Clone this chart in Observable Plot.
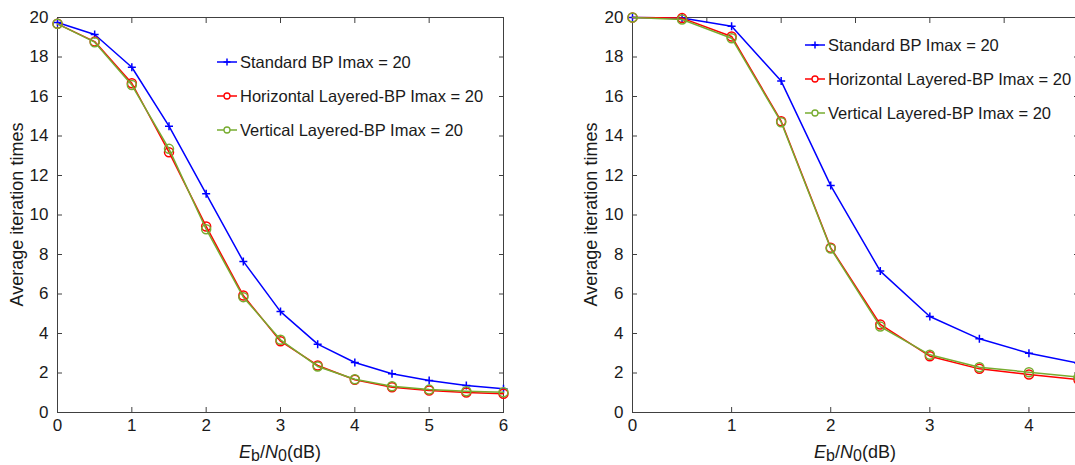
<!DOCTYPE html>
<html>
<head>
<meta charset="utf-8">
<script src="https://cdn.jsdelivr.net/npm/d3@7"></script>
<script src="https://cdn.jsdelivr.net/npm/@observablehq/plot@0.6"></script>
<style>
  html, body { margin: 0; padding: 0; background: #fff; overflow: hidden; width: 1075px; height: 465px; }
  #wrap { position: relative; width: 1075px; height: 465px; overflow: hidden; }
  #wrap svg { position: absolute; top: 0; }
</style>
</head>
<body>
<div id="wrap"></div>
<script>
// ---- data ----
const seriesNames = ["Standard BP Imax = 20", "Horizontal Layered-BP Imax = 20", "Vertical Layered-BP Imax = 20"];
const seriesColors = ["#0000ff", "#ff0000", "#77ac30"];
const seriesSymbols = ["plus", "circle", "circle"];

const snrLeft = [0, 0.5, 1, 1.5, 2, 2.5, 3, 3.5, 4, 4.5, 5, 5.5, 6];
const stdLeft = [19.75, 19.14, 17.48, 14.5, 11.07, 7.65, 5.11, 3.46, 2.53, 1.96, 1.62, 1.37, 1.2];
const horLeft = [19.68, 18.78, 16.67, 13.18, 9.42, 5.92, 3.61, 2.38, 1.66, 1.28, 1.11, 1.01, 0.95];
const verLeft = [19.68, 18.75, 16.58, 13.35, 9.28, 5.84, 3.68, 2.33, 1.68, 1.33, 1.16, 1.08, 1.03];

const snrRight = [0, 0.5, 1, 1.5, 2, 2.5, 3, 3.5, 4, 4.5];
const stdRight = [20.0, 19.97, 19.56, 16.78, 11.49, 7.16, 4.86, 3.73, 3.0, 2.5];
const horRight = [20.0, 19.97, 19.04, 14.75, 8.34, 4.46, 2.85, 2.21, 1.92, 1.66];
const verRight = [20.0, 19.9, 18.95, 14.7, 8.3, 4.35, 2.92, 2.29, 2.04, 1.79];

const yTicks = [0, 2, 4, 6, 8, 10, 12, 14, 16, 18, 20];
const xTicksLeft = [0, 1, 2, 3, 4, 5, 6];
const xTicksRight = [0, 1, 2, 3, 4];
const topTicksRight = [0.75, 1.5, 2.25, 3, 3.75];
const yLabel = "Average iteration times";

// ---- styling ----
const FONT = "'Liberation Sans', Arial, Helvetica, sans-serif";
const axisColor = "#404040";
const textColor = "#1a1a1a";

const plusSymbol = {
  draw(context, size) {
    const r = Math.sqrt(size / Math.PI);
    context.moveTo(-r, 0); context.lineTo(r, 0);
    context.moveTo(0, -r); context.lineTo(0, r);
  }
};

function buildRows(xs, seriesValues) {
  const rows = [];
  seriesValues.forEach((vals, i) => {
    vals.forEach((v, j) => rows.push({series: seriesNames[i], x: xs[j], y: v}));
  });
  return rows;
}

function panel({xs, values, xDomain, xTicks, topTicks, width, marginLeft, marginRight}) {
  const rows = buildRows(xs, values);
  const seriesMarks = [];
  seriesNames.forEach((name, i) => {
    const d = rows.filter(r => r.series === name);
    seriesMarks.push(Plot.line(d, {x: "x", y: "y", stroke: seriesColors[i], strokeWidth: 1.5}));
    if (seriesSymbols[i] === "plus") {
      seriesMarks.push(Plot.dot(d, {x: "x", y: "y", symbol: plusSymbol, r: 4, stroke: seriesColors[i], strokeWidth: 1.5, fill: "none"}));
    } else {
      seriesMarks.push(Plot.dot(d, {x: "x", y: "y", symbol: "circle", r: 4.5, stroke: seriesColors[i], strokeWidth: 1.5, fill: "none"}));
    }
  });
  return Plot.plot({
    width, height: 465,
    marginTop: 17, marginBottom: 53, marginLeft, marginRight,
    x: {domain: xDomain},
    y: {domain: [0, 20]},
    style: {fontFamily: FONT, fontSize: "17px", color: textColor, background: "transparent", overflow: "visible"},
    marks: [
      Plot.frame({stroke: axisColor}),
      Plot.axisX(xTicks, {anchor: "bottom", tickSize: 5, dy: -5, fill: "none", stroke: axisColor}),
      Plot.axisX(topTicks, {anchor: "top", tickSize: 5, dy: 5, fill: "none", stroke: axisColor}),
      Plot.axisY(yTicks, {anchor: "left", tickSize: 5, dx: 5, fill: "none", stroke: axisColor}),
      Plot.axisY(yTicks, {anchor: "right", tickSize: 5, dx: -5, fill: "none", stroke: axisColor}),
      Plot.axisX(xTicks, {anchor: "bottom", tickSize: 0, tickPadding: 6, label: null, fill: textColor, fontSize: 17}),
      Plot.axisY(yTicks, {anchor: "left", tickSize: 0, tickPadding: 9, label: null, fill: textColor, fontSize: 17}),
      ...seriesMarks
    ]
  });
}

function addDecor(svg, {xCenter, yLabelX, legendX, legendRows}) {
  const s = d3.select(svg);
  // x label
  const t = s.append("text")
    .attr("x", xCenter).attr("y", 458)
    .attr("text-anchor", "middle")
    .attr("fill", textColor)
    .style("font-family", FONT).style("font-size", "18px");
  t.append("tspan").attr("font-style", "italic").text("E");
  t.append("tspan").attr("dy", 3).style("font-size", "16px").text("b");
  t.append("tspan").attr("dy", -3).text("/");
  t.append("tspan").attr("font-style", "italic").text("N");
  t.append("tspan").attr("dy", 3).style("font-size", "16px").text("0");
  t.append("tspan").attr("dy", -3).text("(dB)");
  // y label
  s.append("text")
    .attr("transform", `translate(${yLabelX},214.5) rotate(-90)`)
    .attr("text-anchor", "middle")
    .attr("fill", textColor)
    .style("font-family", FONT).style("font-size", "18px")
    .text(yLabel);
  // legend
  const g = s.append("g").attr("text-anchor", "start");
  seriesNames.forEach((name, i) => {
    const y = legendRows[i];
    g.append("line")
      .attr("x1", legendX).attr("x2", legendX + 20)
      .attr("y1", y).attr("y2", y)
      .attr("stroke", seriesColors[i]).attr("stroke-width", 1.5);
    const cx = legendX + 10;
    if (seriesSymbols[i] === "plus") {
      g.append("path").attr("d", `M${cx - 3.5},${y}H${cx + 3.5}M${cx},${y - 3.5}V${y + 3.5}`)
        .attr("stroke", seriesColors[i]).attr("stroke-width", 1.5).attr("fill", "none");
    } else {
      g.append("circle").attr("cx", cx).attr("cy", y).attr("r", 3)
        .attr("stroke", seriesColors[i]).attr("stroke-width", 1.3).attr("fill", "white");
    }
    g.append("text")
      .attr("x", legendX + 23).attr("y", y).attr("dy", "0.36em")
      .attr("text-anchor", "start")
      .attr("fill", textColor)
      .style("font-family", FONT).style("font-size", "16.5px")
      .text(name);
  });
}

const wrap = document.getElementById("wrap");

const left = panel({
  xs: snrLeft, values: [stdLeft, horLeft, verLeft],
  xDomain: [0, 6], xTicks: xTicksLeft, topTicks: xTicksLeft,
  width: 560, marginLeft: 57, marginRight: 57
});
left.style.left = "0px";
wrap.appendChild(left);
addDecor(left, {xCenter: 280, yLabelX: 23, legendX: 217, legendRows: [62, 96, 130]});

const right = panel({
  xs: snrRight, values: [stdRight, horRight, verRight],
  xDomain: [0, 4.5], xTicks: xTicksRight, topTicks: topTicksRight,
  width: 528, marginLeft: 72, marginRight: 10
});
right.style.left = "560px";
wrap.appendChild(right);
addDecor(right, {xCenter: 295, yLabelX: 36.5, legendX: 245, legendRows: [45, 79, 113]});
</script>
</body>
</html>
